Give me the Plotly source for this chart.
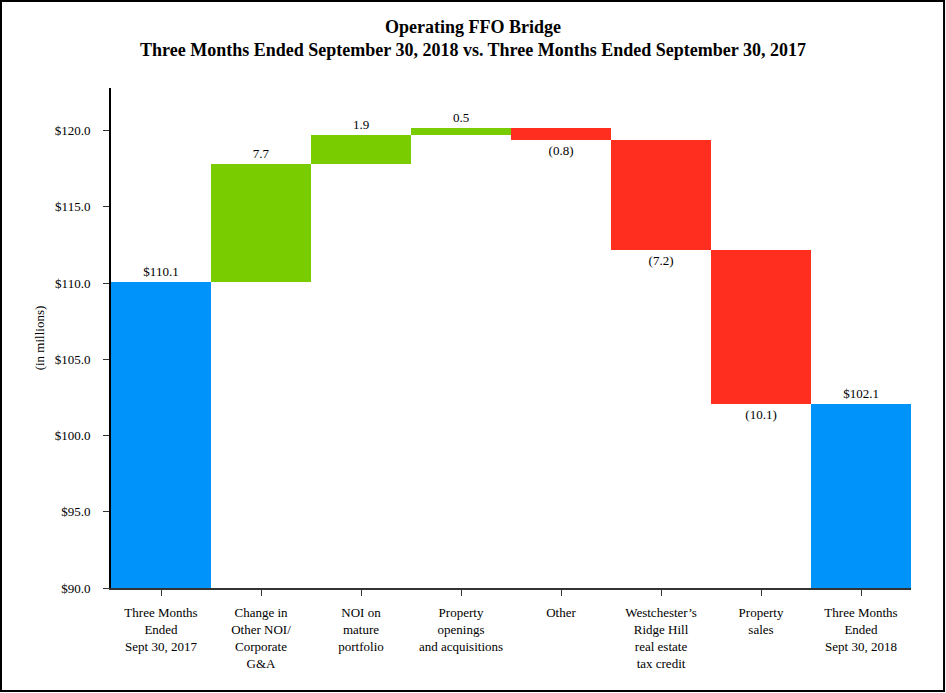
import plotly.graph_objects as go

categories = [
    "Three Months<br>Ended<br>Sept 30, 2017",
    "Change in<br>Other NOI/<br>Corporate<br>G&A",
    "NOI on<br>mature<br>portfolio",
    "Property<br>openings<br>and acquisitions",
    "Other",
    "Westchester’s<br>Ridge Hill<br>real estate<br>tax credit",
    "Property<br>sales",
    "Three Months<br>Ended<br>Sept 30, 2018",
]
values = [110.1, 7.7, 1.9, 0.5, -0.8, -7.2, -10.1, 102.1]
measures = ["absolute", "relative", "relative", "relative", "relative", "relative", "relative", "total"]
labels = ["$110.1", "7.7", "1.9", "0.5", "(0.8)", "(7.2)", "(10.1)", "$102.1"]
y_ticks = [90, 95, 100, 105, 110, 115, 120]
y_tick_text = ["$" + f"{v:.1f}" for v in y_ticks]

BLUE = "#0093FA"
GREEN = "#79CC00"
RED = "#FF2E1F"
FONT = "Liberation Serif"

fig = go.Figure(go.Waterfall(
    x=categories,
    y=values,
    measure=measures,
    text=labels,
    textposition="outside",
    textfont=dict(family=FONT, size=13, color="black"),
    outsidetextfont=dict(family=FONT, size=13, color="black"),
    cliponaxis=False,
    connector=dict(visible=False),
    increasing=dict(marker=dict(color=GREEN, line=dict(width=0))),
    decreasing=dict(marker=dict(color=RED, line=dict(width=0))),
    totals=dict(marker=dict(color=BLUE, line=dict(width=0))),
    hoverinfo="skip",
))

fig.update_layout(
    width=946, height=693,
    margin=dict(l=111, r=35, t=88, b=105),
    paper_bgcolor="white", plot_bgcolor="white",
    waterfallgap=0,
    showlegend=False,
    font=dict(family=FONT, size=13, color="black"),
    title=dict(
        text="<b>Operating FFO Bridge<br>Three Months Ended September 30, 2018 vs. Three Months Ended September 30, 2017</b>",
        x=0.5, xanchor="center", y=0.953, yanchor="top",
        font=dict(family=FONT, size=18, color="black"),
    ),
    xaxis=dict(
        showline=True, linecolor="#333333", linewidth=1.5,
        ticks="outside", ticklen=6, tickcolor="#333333",
        ticklabelstandoff=6,
        tickfont=dict(family=FONT, size=13, color="black"),
        showgrid=False, tickangle=0,
    ),
    yaxis=dict(
        range=[90, 122.8],
        tickvals=y_ticks,
        ticktext=y_tick_text,
        showline=True, linecolor="black", linewidth=2,
        ticks="outside", ticklen=6, tickcolor="#333333",
        ticklabelstandoff=10,
        tickfont=dict(family=FONT, size=13, color="black"),
        showgrid=False, zeroline=False,
        title=dict(text="(in millions)", font=dict(family=FONT, size=13, color="black"), standoff=7),
    ),
    shapes=[dict(
        type="rect", xref="paper", yref="paper",
        x0=-0.1375, x1=1.0413, y0=-0.206, y1=1.174,
        line=dict(color="black", width=2), fillcolor="rgba(0,0,0,0)",
    )],
)

fig.write_html(
    "out.html",
    config={"displayModeBar": False},
    post_script="document.body.style.margin='0';document.body.style.overflow='hidden';",
)
